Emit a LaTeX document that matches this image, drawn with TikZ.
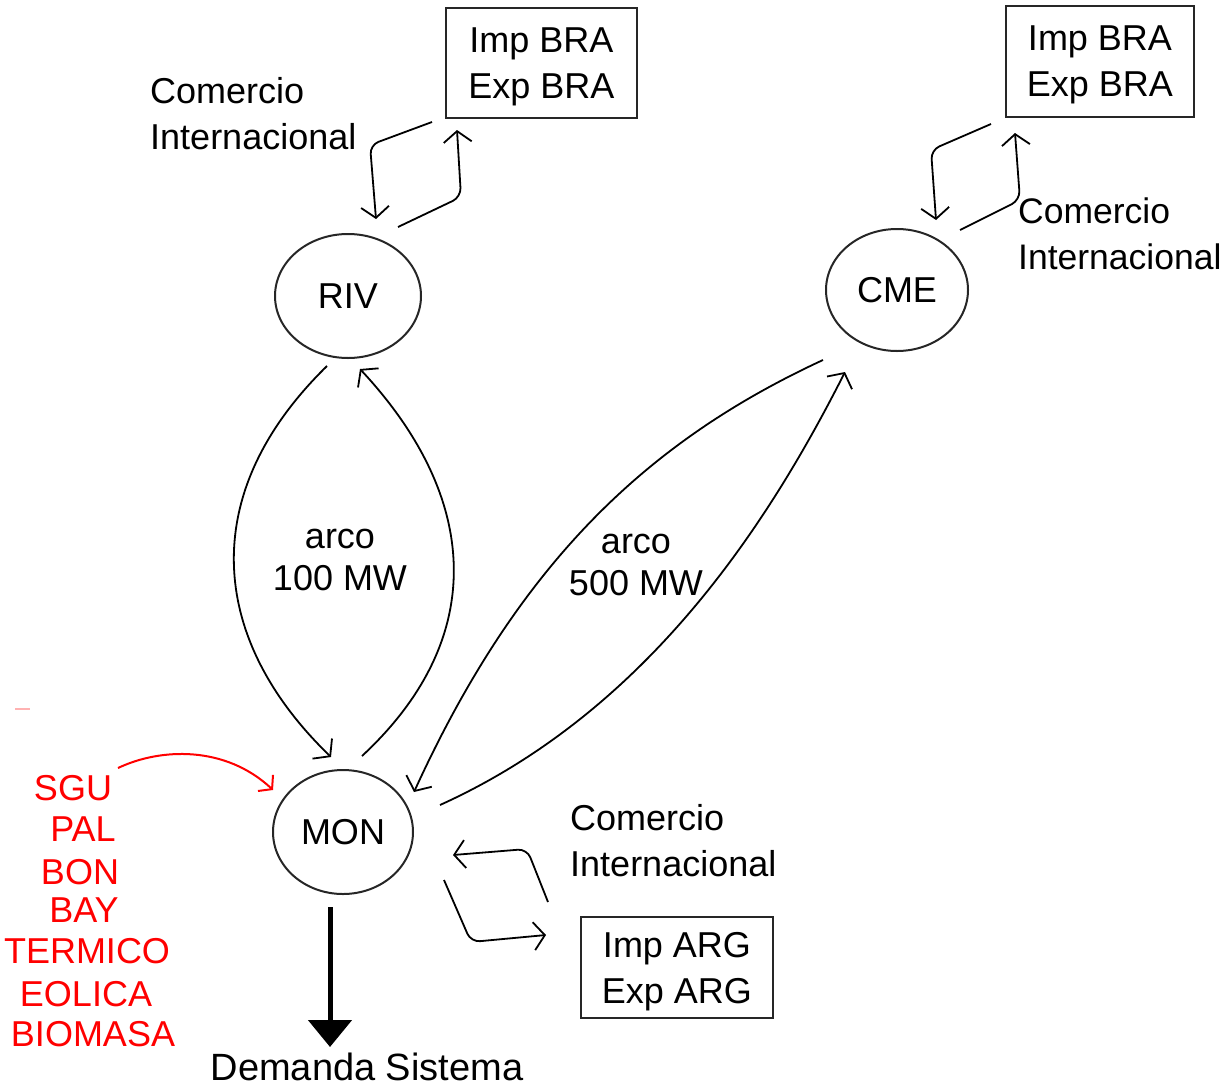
\documentclass[tikz,border=0pt]{standalone}
\usepackage{fontspec}
\setmainfont{Liberation Sans}
\usetikzlibrary{arrows.meta,shapes.geometric}
\begin{document}
\begin{tikzpicture}[x=1pt,y=-1pt,
  txt/.style={font=\fontsize{36}{46}\selectfont, inner sep=0pt},
  boxnode/.style={draw=black!85, line width=2pt, txt, align=center, text depth=0pt},
  ellnode/.style={ellipse, draw=black!85, line width=2pt, txt},
  redtxt/.style={txt, text=red, anchor=base},
  arr/.style={line width=1.8pt, -{Straight Barb[length=11pt,width=28pt]}},
  loopar/.style={arr, rounded corners=9pt},
  redarr/.style={red, line width=2pt, -{Straight Barb[length=9pt,width=22pt]}},
  thickarr/.style={line width=5pt, -{Triangle[length=27pt,width=43pt]}}
]
\useasboundingbox (0,0) rectangle (1226,1087);

% boxes
\node[boxnode, minimum width=191pt, minimum height=110pt] (boxA) at (541.5,63) {Imp BRA\\Exp BRA};
\node[boxnode, minimum width=188pt, minimum height=111pt] (boxB) at (1100,61.5) {Imp BRA\\Exp BRA};
\node[boxnode, minimum width=192pt, minimum height=101pt] (boxC) at (677,967.5) {Imp ARG\\Exp ARG};

% ellipses
\node[ellnode, minimum width=146pt, minimum height=124pt] (riv) at (348,296) {RIV};
\node[ellnode, minimum width=142pt, minimum height=122pt] (cme) at (897,290) {CME};
\node[ellnode, minimum width=140pt, minimum height=124pt] (mon) at (343,832) {MON};

% labels
\node[txt, align=left, anchor=west] (ciA) at (150,114) {Comercio\\Internacional};
\node[txt, align=left, anchor=west, font=\fontsize{35.5}{46}\selectfont] (ciB) at (1018,234) {Comercio\\Internacional};
\node[txt, align=left, anchor=west] (ciC) at (570,841) {Comercio\\Internacional};
\node[txt, align=center, font=\fontsize{36}{42}\selectfont] (arcoA) at (340,560) {arco\\100 MW};
\node[txt, align=center, font=\fontsize{36}{42}\selectfont] (arcoB) at (636,565) {arco\\500 MW};
\node[txt, font=\fontsize{38}{46}\selectfont] (dem) at (367,1067) {Demanda Sistema};

% red generators
\node[redtxt] (sgu) at (73,800) {SGU};
\node[redtxt] (pal) at (83,841) {PAL};
\node[redtxt] (bon) at (80,884) {BON};
\node[redtxt] (bay) at (84,922) {BAY};
\node[redtxt] (ter) at (87,963) {TERMICO};
\node[redtxt] (eol) at (86,1006) {EOLICA};
\node[redtxt] (bio) at (93,1046) {BIOMASA};

% connector end points
\coordinate (a1s) at (432,122);  \coordinate (a1e) at (376,219);
\coordinate (a2s) at (398,227);  \coordinate (a2e) at (457,130);
\coordinate (b1s) at (991,124);  \coordinate (b1e) at (936,220);
\coordinate (b2s) at (960,230);  \coordinate (b2e) at (1015,133);
\coordinate (c1s) at (548,902);  \coordinate (c1e) at (453,855);
\coordinate (c2s) at (444,880);  \coordinate (c2e) at (546,935);
\coordinate (rmS) at (327,366);  \coordinate (rmE) at (331,757);
\coordinate (mrS) at (362,756);  \coordinate (mrE) at (360,369);
\coordinate (cmS) at (823,360);  \coordinate (cmE) at (414,792);
\coordinate (mcS) at (440,805);  \coordinate (mcE) at (845,372);
\coordinate (sgS) at (118,768);  \coordinate (sgE) at (273,790);
\coordinate (dmS) at (330,907);  \coordinate (dmE) at (330,1047);

% international trade loops
\draw[loopar] (a1s) -- (370,145) -- (a1e);
\draw[loopar] (a2s) -- (461,197) -- (a2e);
\draw[loopar] (b1s) -- (931,150) -- (b1e);
\draw[loopar] (b2s) -- (1020,200) -- (b2e);
\draw[loopar] (c1s) -- (527,849) -- (c1e);
\draw[loopar] (c2s) -- (471,942) -- (c2e);

% arcs RIV <-> MON
\draw[arr] (rmS) .. controls (195,495) and (210,640) .. (rmE);
\draw[arr] (mrS) .. controls (487,640) and (482,500) .. (mrE);

% arcs CME <-> MON
\draw[arr] (cmS) .. controls (650,440) and (520,560) .. (cmE);
\draw[arr] (mcS) .. controls (650,710) and (770,520) .. (mcE);

% generation into MON
\draw[redarr] (sgS) .. controls (160,748) and (225,745) .. (sgE);
\draw[red!30, line width=2pt] (15,709) -- (30,709);

% demand
\draw[thickarr] (dmS) -- (dmE);
\end{tikzpicture}
\end{document}
